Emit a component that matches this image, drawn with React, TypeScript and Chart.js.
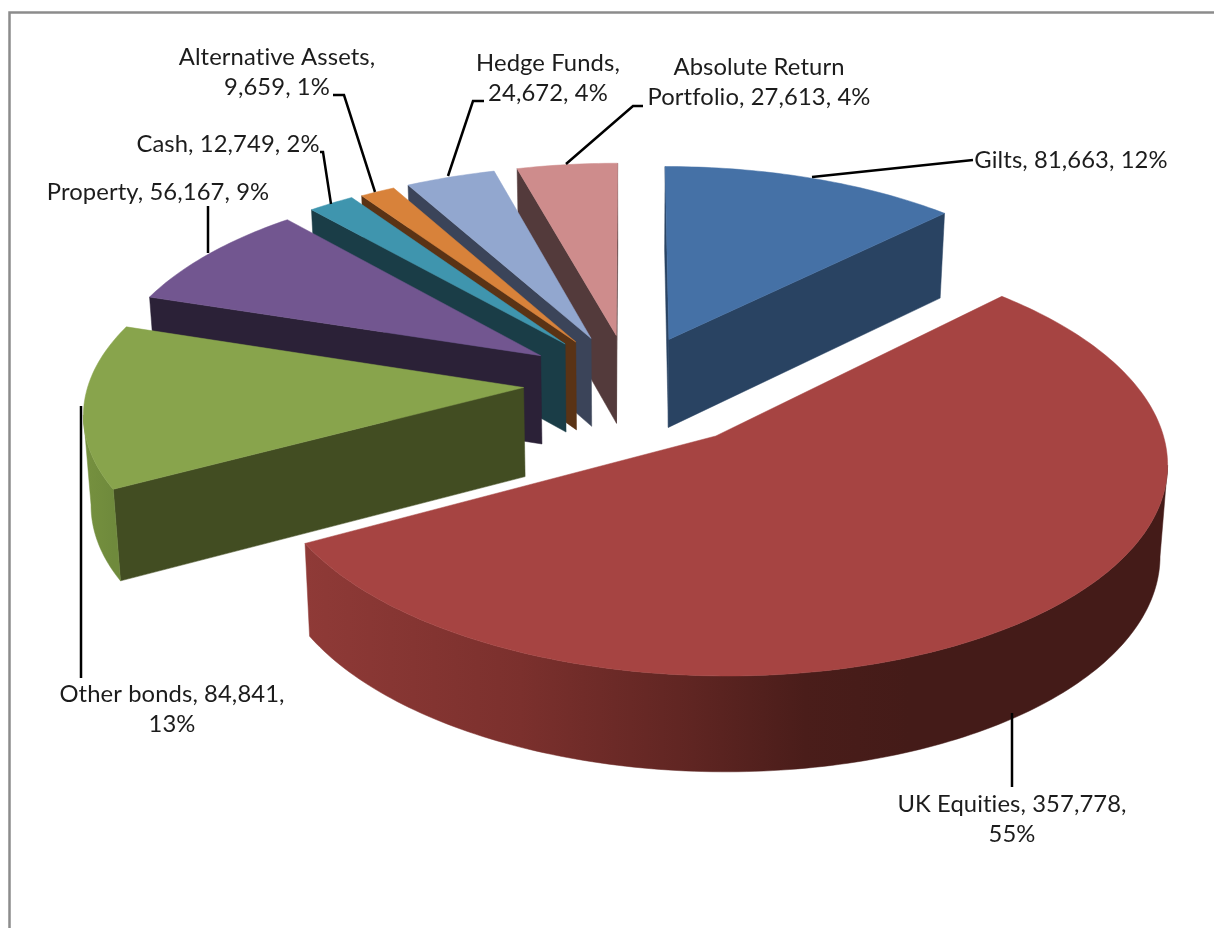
import React, { useEffect, useRef } from "react";
import { Chart, registerables, PieController, ArcElement } from "chart.js";

// ---- data (order as in the chart, clockwise from twelve o'clock)
const categories = ["Gilts", "UK Equities", "Other bonds", "Property", "Cash", "Alternative Assets", "Hedge Funds", "Absolute Return Portfolio"];
const values = [81663, 357778, 84841, 56167, 12749, 9659, 24672, 27613];
const labelLines = [
  ["Gilts, 81,663, 12%"],
  ["UK Equities, 357,778,", "55%"],
  ["Other bonds, 84,841,", "13%"],
  ["Property, 56,167, 9%"],
  ["Cash, 12,749, 2%"],
  ["Alternative Assets,", "9,659, 1%"],
  ["Hedge Funds,", "24,672, 4%"],
  ["Absolute Return", "Portfolio, 27,613, 4%"],
];

// ---- styles
const topColors = ["#4571a6", "#a64442", "#88a44c", "#725690", "#3f95ae", "#d8823a", "#92a7cf", "#ce8c8c"];
const wallColors = ["#294362", "#441b18", "#424d22", "#2b2137", "#1a3d47", "#5a3315", "#3b4459", "#533a3b"];
const curveStops: Record<number, [number, string][]> = {
  1: [[0, "#8f3a37"], [0.25, "#7b302d"], [0.45, "#5f2522"], [0.58, "#4a1d1a"], [0.7, "#441b18"], [1, "#441b18"]],
  2: [[0, "#76913f"], [1, "#6f8a3c"]],
};
// explosion of each slice, as a fraction of the pie's radius
const explode = [0.24, 0.32, 0.245, 0.25, 0.25, 0.245, 0.245, 0.245];
const paintOrder = [7, 6, 5, 4, 3, 2, 0, 1];

// ---- view of the pie's plane
const VIEW = { f: 435, s: 201, p: 0.11, depth: 89, taper: 0.986 };

// ---- label layout: text centre, first line middle, leader polyline
const LINE_H = 30;
const labelPos = [
  { x: 1071, y: 160, lead: [[812, 177], [973, 160]] },
  { x: 1012, y: 804, lead: [[1012, 713], [1012, 787]] },
  { x: 172, y: 694, lead: [[81, 406], [81, 678]] },
  { x: 158, y: 192, lead: [[208, 253], [208, 206]] },
  { x: 228, y: 144, lead: [[331, 204], [323, 152], [320, 152]] },
  { x: 277, y: 57, lead: [[375, 192], [344, 95], [333, 95]] },
  { x: 548, y: 63, lead: [[448, 176], [473, 101], [484, 101]] },
  { x: 759, y: 67, lead: [[566, 164], [633, 106], [643, 106]] },
];

type P = { x: number; y: number };

class Arc3D extends ArcElement {
  static id = "arc3d";
  draw(ctx: CanvasRenderingContext2D) {
    const { x, y, startAngle, endAngle } = (this as any).getProps(
      ["x", "y", "startAngle", "endAngle"], false);
    const opts = (this as any).options;
    const d = opts.offset || 0;
    const mid = (startAngle + endAngle) / 2;
    const ox = Math.cos(mid) * d;
    const oy = Math.sin(mid) * d;
    const project = (px: number, py: number) => {
      const w = 1 - VIEW.p * py;
      return { x: x + (VIEW.f * px) / w, y: y + (VIEW.s * py) / w, w };
    };
    const lower = (q: any): P => ({
      x: x + (q.x - x) * VIEW.taper,
      y: q.y + VIEW.depth / Math.sqrt(q.w),
    });
    const tip = project(ox, oy);
    const rim: any[] = [];
    const steps = Math.max(2, Math.ceil((endAngle - startAngle) / (Math.PI / 180)));
    for (let i = 0; i <= steps; i++) {
      const a = startAngle + ((endAngle - startAngle) * i) / steps;
      rim.push(project(ox + Math.cos(a), oy + Math.sin(a)));
    }
    const wall = opts.wallColor;
    const poly = (pts: P[], fill: any) => {
      ctx.beginPath();
      pts.forEach((q, i) => (i ? ctx.lineTo(q.x, q.y) : ctx.moveTo(q.x, q.y)));
      ctx.closePath();
      ctx.fillStyle = fill;
      ctx.fill();
      ctx.strokeStyle = fill;
      ctx.lineWidth = 0.5;
      ctx.stroke();
    };
    // flat walls: a wall faces the viewer when its clockwise edge runs leftwards
    const first = rim[0];
    const last = rim[rim.length - 1];
    if (first.x < tip.x) poly([tip, first, lower(first), lower(tip)], wall);
    if (tip.x < last.x) poly([last, tip, lower(tip), lower(last)], wall);
    // curved wall
    const run: any[] = [];
    for (let i = 0; i < rim.length - 1; i++) {
      if (rim[i + 1].x < rim[i].x) {
        if (!run.length) run.push(rim[i]);
        run.push(rim[i + 1]);
      }
    }
    if (run.length > 1) {
      let fill: any = wall;
      const stops = opts.curveStops;
      if (stops) {
        const xs = run.map((q) => q.x);
        const g = ctx.createLinearGradient(Math.min(...xs), 0, Math.max(...xs), 0);
        stops.forEach((s: [number, string]) => g.addColorStop(s[0], s[1]));
        fill = g;
      }
      poly([...run, ...run.map(lower).reverse()], fill);
    }
    // top face
    poly([tip, ...rim], opts.backgroundColor);
  }
}
(Arc3D as any).defaults = { wallColor: "#000", curveStops: null };

class Pie3DController extends PieController {
  static id = "pie3d";
  static defaults = { dataElementType: "arc3d" };
  draw() {
    const ctx = (this as any)._ctx;
    const elements = (this as any)._cachedMeta.data;
    const area = (this as any).chart.chartArea;
    paintOrder.forEach((i) => elements[i] && elements[i].draw(ctx, area));
  }
}

const framePlugin = {
  id: "frame",
  beforeDraw(chart: any) {
    const { ctx, width, height } = chart;
    ctx.save();
    ctx.fillStyle = "#ffffff";
    ctx.fillRect(0, 0, width, height);
    ctx.strokeStyle = "#8c8c8c";
    ctx.lineWidth = 2.5;
    ctx.beginPath();
    ctx.moveTo(9.5, height);
    ctx.lineTo(9.5, 12.5);
    ctx.lineTo(width, 12.5);
    ctx.stroke();
    ctx.restore();
  },
};

const labelPlugin = {
  id: "sliceLabels",
  afterDatasetsDraw(chart: any) {
    const { ctx } = chart;
    ctx.save();
    ctx.strokeStyle = "#000000";
    ctx.lineWidth = 2.5;
    ctx.lineJoin = "miter";
    labelPos.forEach((pos) => {
      ctx.beginPath();
      pos.lead.forEach((q, i) => (i ? ctx.lineTo(q[0], q[1]) : ctx.moveTo(q[0], q[1])));
      ctx.stroke();
    });
    ctx.fillStyle = "#1c1c1c";
    ctx.font = '23.8px Lato, "Open Sans", sans-serif';
    (ctx as any).letterSpacing = "0.1px";
    ctx.textAlign = "center";
    ctx.textBaseline = "middle";
    labelLines.forEach((lines, i) => {
      lines.forEach((t, k) => ctx.fillText(t, labelPos[i].x, labelPos[i].y + k * LINE_H));
    });
    ctx.restore();
  },
};

Chart.register(...registerables, Arc3D as any, Pie3DController as any);

export default function App() {
  const ref = useRef<HTMLCanvasElement>(null);
  useEffect(() => {
    document.body.style.margin = "0";
    const chart = new Chart(ref.current as HTMLCanvasElement, {
      type: "pie3d" as any,
      data: {
        labels: categories,
        datasets: [
          {
            data: values,
            backgroundColor: topColors,
            borderWidth: 0,
            offset: explode,
            wallColor: wallColors,
            curveStops: topColors.map((_, i) => curveStops[i] || null),
          } as any,
        ],
      },
      options: {
        responsive: false,
        animation: false,
        layout: { padding: { left: 46, right: 0, top: 0, bottom: 162 } },
        plugins: { legend: { display: false }, tooltip: { enabled: false } },
      } as any,
      plugins: [framePlugin, labelPlugin],
    });
    return () => chart.destroy();
  }, []);
  return <canvas ref={ref} width={1214} height={928} style={{ display: "block" }} />;
}
